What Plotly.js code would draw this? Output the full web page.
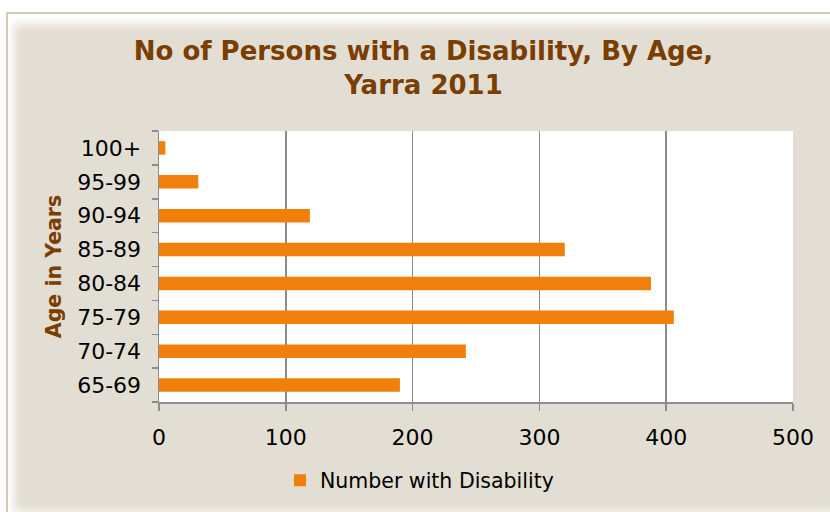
<!DOCTYPE html>
<html>
<head>
<meta charset="utf-8">
<script src="https://cdn.plot.ly/plotly-3.0.1.min.js"></script>
<style>
  html, body { margin: 0; padding: 0; background: #ffffff; overflow: hidden; width: 830px; height: 512px; }
  #frame { position: absolute; left: 6px; top: 12px; width: 840px; height: 500px;
           background: #E3DED3; border: 2px solid #D3CBB8;
           box-shadow: inset 0 4px 10px 6px #ffffff; }
  #chart { position: absolute; left: 0; top: 0; width: 830px; height: 512px; }
</style>
</head>
<body>
<div id="frame"></div>
<div id="chart"></div>
<script>
const ageGroups = ['65-69', '70-74', '75-79', '80-84', '85-89', '90-94', '95-99', '100+'];
const numberWithDisability = [190, 242, 406, 388, 320, 119, 31, 5];
const seriesName = 'Number with Disability';
const chartTitle = 'No of Persons with a Disability, By Age,<br>Yarra 2011';
const yTitle = 'Age in Years';
const xTicks = [0, 100, 200, 300, 400, 500];

const grey = '#8C8C8C';
const brown = '#7A3E00';

const trace = {
  type: 'bar',
  orientation: 'h',
  y: ageGroups,
  x: numberWithDisability,
  name: seriesName,
  showlegend: true,
  marker: { color: '#F0800B' },
  hoverinfo: 'x+y'
};

const layout = {
  width: 830,
  height: 512,
  paper_bgcolor: 'rgba(0,0,0,0)',
  plot_bgcolor: '#ffffff',
  margin: { l: 159, r: 37, t: 131, b: 108, pad: 0 },
  bargap: 0.6,
  font: { family: 'DejaVu Sans, Verdana, sans-serif', color: '#000000' },
  title: {
    text: chartTitle,
    font: { family: 'DejaVu Sans, Verdana, sans-serif', size: 26, color: brown, weight: 'bold' },
    x: 0.5102, xanchor: 'center', xref: 'container',
    y: 1 - 60 / 512, yanchor: 'top', yref: 'container'
  },
  xaxis: {
    range: [0, 500],
    tickvals: xTicks,
    ticktext: xTicks.map(String),
    showgrid: true, gridcolor: grey, gridwidth: 1.5,
    zeroline: false,
    showline: true, linecolor: grey, linewidth: 1.5,
    ticks: 'outside', ticklen: 7, tickwidth: 1.5, tickcolor: grey,
    tickfont: { size: 22, color: '#000000' },
    ticklabelstandoff: 8,
    fixedrange: true
  },
  yaxis: {
    type: 'category',
    categoryorder: 'array',
    categoryarray: ageGroups,
    tickson: 'boundaries',
    showgrid: false,
    zeroline: false,
    showline: true, linecolor: grey, linewidth: 1.5,
    ticks: 'outside', ticklen: 6, tickwidth: 1.5, tickcolor: grey,
    tickfont: { size: 22, color: '#000000' },
    ticklabelstandoff: 12,
    automargin: false,
    title: {
      text: yTitle,
      font: { family: 'DejaVu Sans, Verdana, sans-serif', size: 20.5, color: brown, weight: 'bold' },
      standoff: 10
    },
    fixedrange: true
  },
  legend: {
    orientation: 'h',
    x: (280 - 159) / 634, xanchor: 'left',
    y: (404 - 483) / 273, yanchor: 'middle',
    bgcolor: 'rgba(0,0,0,0)',
    font: { size: 20.5, color: '#000000' }
  },
  showlegend: true
};

Plotly.newPlot('chart', [trace], layout, { displayModeBar: false, staticPlot: true });
</script>
</body>
</html>
